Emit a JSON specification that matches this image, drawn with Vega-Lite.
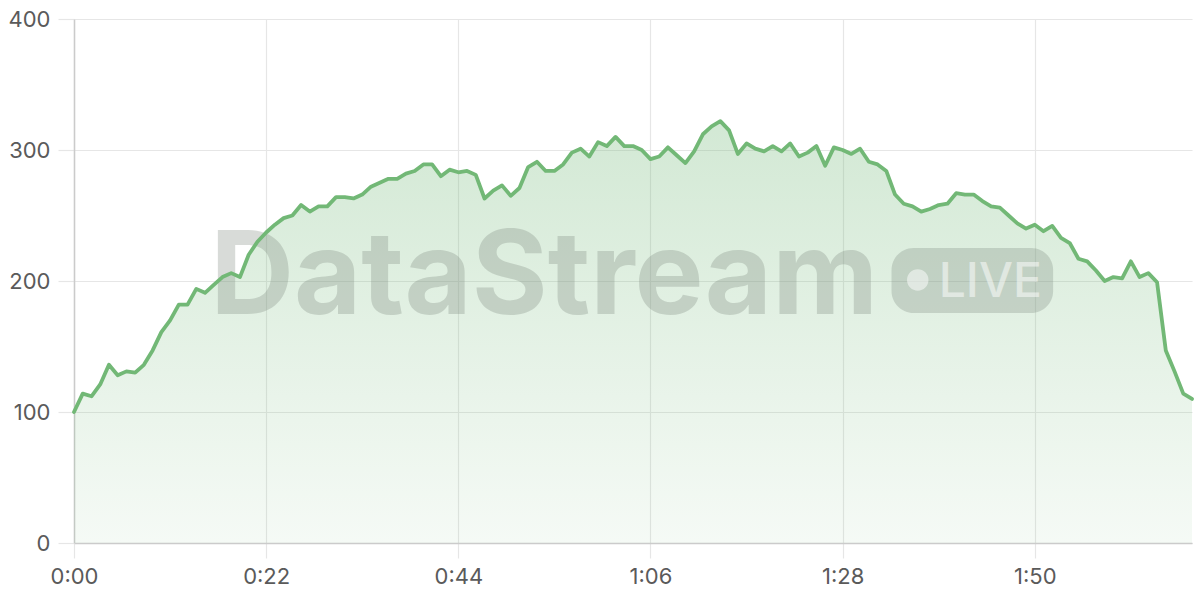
{
  "$schema": "https://vega.github.io/schema/vega-lite/v6.json",
  "autosize": {"type": "none"},
  "padding": {"left": 74, "top": 19, "right": 8, "bottom": 57},
  "width": 1118,
  "height": 524,
  "background": "#ffffff",
  "config": {
    "view": {"stroke": null},
    "axis": {
      "labelFont": "Inter",
      "labelFontSize": 22,
      "labelColor": "#5a5a5a",
      "gridColor": "#e6e6e6",
      "gridWidth": 1.2,
      "tickColor": "#e6e6e6",
      "tickWidth": 1.2,
      "domainColor": "#cbcbcb",
      "domainWidth": 1.5,
      "labelFlush": false,
      "title": null
    }
  },
  "datasets": {
    "series": [
      {"t":0,"v":100},{"t":1,"v":114},{"t":2,"v":112},{"t":3,"v":121},{"t":4,"v":136},{"t":5,"v":128},{"t":6,"v":131},{"t":7,"v":130},{"t":8,"v":136},{"t":9,"v":147},
      {"t":10,"v":161},{"t":11,"v":170},{"t":12,"v":182},{"t":13,"v":182},{"t":14,"v":194},{"t":15,"v":191},{"t":16,"v":197},{"t":17,"v":203},{"t":18,"v":206},{"t":19,"v":203},
      {"t":20,"v":220},{"t":21,"v":230},{"t":22,"v":237},{"t":23,"v":243},{"t":24,"v":248},{"t":25,"v":250},{"t":26,"v":258},{"t":27,"v":253},{"t":28,"v":257},{"t":29,"v":257},
      {"t":30,"v":264},{"t":31,"v":264},{"t":32,"v":263},{"t":33,"v":266},{"t":34,"v":272},{"t":35,"v":275},{"t":36,"v":278},{"t":37,"v":278},{"t":38,"v":282},{"t":39,"v":284},
      {"t":40,"v":289},{"t":41,"v":289},{"t":42,"v":280},{"t":43,"v":285},{"t":44,"v":283},{"t":45,"v":284},{"t":46,"v":281},{"t":47,"v":263},{"t":48,"v":269},{"t":49,"v":273},
      {"t":50,"v":265},{"t":51,"v":271},{"t":52,"v":287},{"t":53,"v":291},{"t":54,"v":284},{"t":55,"v":284},{"t":56,"v":289},{"t":57,"v":298},{"t":58,"v":301},{"t":59,"v":295},
      {"t":60,"v":306},{"t":61,"v":303},{"t":62,"v":310},{"t":63,"v":303},{"t":64,"v":303},{"t":65,"v":300},{"t":66,"v":293},{"t":67,"v":295},{"t":68,"v":302},{"t":69,"v":296},
      {"t":70,"v":290},{"t":71,"v":299},{"t":72,"v":312},{"t":73,"v":318},{"t":74,"v":322},{"t":75,"v":315},{"t":76,"v":297},{"t":77,"v":305},{"t":78,"v":301},{"t":79,"v":299},
      {"t":80,"v":303},{"t":81,"v":299},{"t":82,"v":305},{"t":83,"v":295},{"t":84,"v":298},{"t":85,"v":303},{"t":86,"v":288},{"t":87,"v":302},{"t":88,"v":300},{"t":89,"v":297},
      {"t":90,"v":301},{"t":91,"v":291},{"t":92,"v":289},{"t":93,"v":284},{"t":94,"v":266},{"t":95,"v":259},{"t":96,"v":257},{"t":97,"v":253},{"t":98,"v":255},{"t":99,"v":258},
      {"t":100,"v":259},{"t":101,"v":267},{"t":102,"v":266},{"t":103,"v":266},{"t":104,"v":261},{"t":105,"v":257},{"t":106,"v":256},{"t":107,"v":250},{"t":108,"v":244},{"t":109,"v":240},
      {"t":110,"v":243},{"t":111,"v":238},{"t":112,"v":242},{"t":113,"v":233},{"t":114,"v":229},{"t":115,"v":217},{"t":116,"v":215},{"t":117,"v":208},{"t":118,"v":200},{"t":119,"v":203},
      {"t":120,"v":202},{"t":121,"v":215},{"t":122,"v":203},{"t":123,"v":206},{"t":124,"v":199},{"t":125,"v":147},{"t":126,"v":131},{"t":127,"v":114},{"t":128,"v":110}
    ],
    "brand": [{"name": "DataStream", "badge": "LIVE"}]
  },
  "layer": [
    {
      "data": {"name": "series"},
      "mark": {
        "type": "area",
        "color": {
          "gradient": "linear",
          "x1": 0, "y1": 0, "x2": 0, "y2": 1,
          "stops": [
            {"offset": 0, "color": "rgba(116,185,122,0.32)"},
            {"offset": 1, "color": "rgba(116,185,122,0.07)"}
          ]
        }
      },
      "encoding": {
        "x": {"field": "t", "type": "quantitative",
          "scale": {"domain": [0, 128], "nice": false, "zero": false},
          "axis": {"values": [0, 22, 44, 66, 88, 110], "labelExpr": "floor(datum.value/60) + ':' + (datum.value % 60 < 10 ? '0' : '') + (datum.value % 60)", "tickSize": 15, "labelPadding": 8, "grid": true}},
        "y": {"field": "v", "type": "quantitative",
          "scale": {"domain": [0, 400], "nice": false},
          "axis": {"values": [0, 100, 200, 300, 400], "tickSize": 16, "labelPadding": 8, "grid": true}}
      }
    },
    {
      "data": {"name": "brand"},
      "mark": {"type": "text", "align": "left", "baseline": "alphabetic", "font": "Inter", "fontSize": 116, "fontWeight": 700, "color": "#7f8a80", "opacity": 0.3},
      "encoding": {
        "x": {"datum": 15.6, "type": "quantitative",
          "axis": {"values": [0, 22, 44, 66, 88, 110], "labelExpr": "floor(datum.value/60) + ':' + (datum.value % 60 < 10 ? '0' : '') + (datum.value % 60)", "tickSize": 15, "labelPadding": 8, "grid": true}},
        "y": {"datum": 174.8, "type": "quantitative",
          "axis": {"values": [0, 100, 200, 300, 400], "tickSize": 16, "labelPadding": 8, "grid": true}},
        "text": {"field": "name"}
      }
    },
    {
      "data": {"name": "brand"},
      "mark": {"type": "rect", "cornerRadius": 22, "color": "#7f8a80", "opacity": 0.3},
      "encoding": {
        "x": {"datum": 93.6, "type": "quantitative",
          "axis": {"values": [0, 22, 44, 66, 88, 110], "labelExpr": "floor(datum.value/60) + ':' + (datum.value % 60 < 10 ? '0' : '') + (datum.value % 60)", "tickSize": 15, "labelPadding": 8, "grid": true}},
        "x2": {"datum": 112.1},
        "y": {"datum": 225.2, "type": "quantitative",
          "axis": {"values": [0, 100, 200, 300, 400], "tickSize": 16, "labelPadding": 8, "grid": true}},
        "y2": {"datum": 175.6}
      }
    },
    {
      "data": {"name": "brand"},
      "mark": {"type": "point", "shape": "circle", "filled": true, "size": 460, "color": "#ffffff", "opacity": 0.5},
      "encoding": {
        "x": {"datum": 96.6, "type": "quantitative",
          "axis": {"values": [0, 22, 44, 66, 88, 110], "labelExpr": "floor(datum.value/60) + ':' + (datum.value % 60 < 10 ? '0' : '') + (datum.value % 60)", "tickSize": 15, "labelPadding": 8, "grid": true}},
        "y": {"datum": 200.8, "type": "quantitative",
          "axis": {"values": [0, 100, 200, 300, 400], "tickSize": 16, "labelPadding": 8, "grid": true}}
      }
    },
    {
      "data": {"name": "brand"},
      "mark": {"type": "text", "align": "left", "baseline": "alphabetic", "font": "Inter", "fontSize": 48, "fontWeight": 500, "color": "#ffffff", "opacity": 0.5},
      "encoding": {
        "x": {"datum": 99.0, "type": "quantitative",
          "axis": {"values": [0, 22, 44, 66, 88, 110], "labelExpr": "floor(datum.value/60) + ':' + (datum.value % 60 < 10 ? '0' : '') + (datum.value % 60)", "tickSize": 15, "labelPadding": 8, "grid": true}},
        "y": {"datum": 187.8, "type": "quantitative",
          "axis": {"values": [0, 100, 200, 300, 400], "tickSize": 16, "labelPadding": 8, "grid": true}},
        "text": {"field": "badge"}
      }
    },
    {
      "data": {"name": "series"},
      "mark": {"type": "line", "color": "#72b876", "strokeWidth": 3.8, "strokeJoin": "round", "strokeCap": "round"},
      "encoding": {
        "x": {"field": "t", "type": "quantitative",
          "axis": {"values": [0, 22, 44, 66, 88, 110], "labelExpr": "floor(datum.value/60) + ':' + (datum.value % 60 < 10 ? '0' : '') + (datum.value % 60)", "tickSize": 15, "labelPadding": 8, "grid": true}},
        "y": {"field": "v", "type": "quantitative",
          "axis": {"values": [0, 100, 200, 300, 400], "tickSize": 16, "labelPadding": 8, "grid": true}}
      }
    }
  ]
}
